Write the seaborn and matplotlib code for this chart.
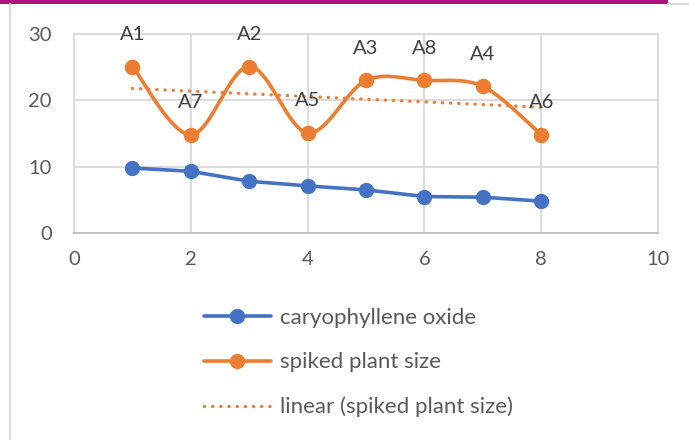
import numpy as np
import pandas as pd
import matplotlib
matplotlib.use("Agg")
import matplotlib.pyplot as plt
from matplotlib.lines import Line2D
from matplotlib.patches import Rectangle
import seaborn as sns

# --- data ---------------------------------------------------------------
x_vals = [1, 2, 3, 4, 5, 6, 7, 8]
caryophyllene_oxide = [9.8, 9.3, 7.8, 7.1, 6.5, 5.5, 5.4, 4.8]
spiked_plant_size = [25.1, 14.8, 25.1, 15.1, 23.0, 23.0, 22.1, 14.8]
point_labels = ["A1", "A7", "A2", "A5", "A3", "A8", "A4", "A6"]
x_ticks = [0, 2, 4, 6, 8, 10]
y_ticks = [0, 10, 20, 30]

BLUE = "#4472C4"
ORANGE = "#ED7D31"
GRID = "#D9D9D9"
TEXT = "#595959"

sns.set_theme(style="white")
plt.rcParams["font.family"] = ["Lato", "DejaVu Sans"]

W, H, DPI = 689, 440, 100
fig = plt.figure(figsize=(W / DPI, H / DPI), dpi=DPI)
ax = fig.add_axes([74 / W, 1 - 233 / H, (658 - 74) / W, (233 - 34) / H])


def smooth_curve(xs, ys, n=40):
    """Catmull-Rom style Bezier smoothing through every point."""
    pts = np.column_stack([xs, ys]).astype(float)
    ext = np.vstack([pts[0], pts, pts[-1]])
    out = []
    t = np.linspace(0, 1, n)[:, None]
    for i in range(len(pts) - 1):
        p0, p3 = ext[i + 1], ext[i + 2]
        c1 = p0 + (ext[i + 2] - ext[i]) / 6.0
        c2 = p3 - (ext[i + 3] - ext[i + 1]) / 6.0
        seg = ((1 - t) ** 3) * p0 + 3 * ((1 - t) ** 2) * t * c1 + 3 * (1 - t) * t ** 2 * c2 + t ** 3 * p3
        out.append(seg if i == 0 else seg[1:])
    arr = np.vstack(out)
    return arr[:, 0], arr[:, 1]


df = pd.DataFrame({"x": x_vals, "oxide": caryophyllene_oxide, "size": spiked_plant_size})

# caryophyllene oxide: straight segments with round markers
sns.lineplot(data=df, x="x", y="oxide", ax=ax, color=BLUE, lw=2.6,
             marker="o", markersize=11, markeredgewidth=0, zorder=4)

# spiked plant size: smoothed curve plus markers
sx, sy = smooth_curve(x_vals, spiked_plant_size)
sns.lineplot(x=sx, y=sy, ax=ax, color=ORANGE, lw=2.6, sort=False, zorder=4)
sns.scatterplot(data=df, x="x", y="size", ax=ax, color=ORANGE, s=125,
                linewidth=0, zorder=5)

# linear trend of spiked plant size
sns.regplot(data=df, x="x", y="size", ax=ax, scatter=False, ci=None, truncate=True,
            line_kws=dict(color=ORANGE, lw=2.4, linestyle=(0, (0.05, 2.4)),
                          dash_capstyle="round", zorder=3))

# point labels above the markers
for xv, yv, lab in zip(x_vals, spiked_plant_size, point_labels):
    ax.annotate(lab, (xv, yv), xytext=(0, 23), textcoords="offset points",
                ha="center", va="center", fontsize=14.5, color="#404040", zorder=6)

ax.set_xlim(0, 10)
ax.set_ylim(0, 30)
ax.set_xticks(x_ticks)
ax.set_yticks(y_ticks)
ax.set_xlabel("")
ax.set_ylabel("")
ax.grid(True, color=GRID, lw=1.3)
ax.set_axisbelow(True)
for side in ["top", "right", "left"]:
    ax.spines[side].set_visible(True)
    ax.spines[side].set_color(GRID)
    ax.spines[side].set_linewidth(1.3)
ax.spines["bottom"].set_color("#BFBFBF")
ax.spines["bottom"].set_linewidth(1.3)
ax.tick_params(axis="both", length=0, labelsize=14.5, labelcolor=TEXT)
ax.tick_params(axis="x", pad=13)
ax.tick_params(axis="y", pad=16)

# legend below the plot
handles = [
    Line2D([], [], color=BLUE, lw=2.6, marker="o", markersize=11, markeredgewidth=0),
    Line2D([], [], color=ORANGE, lw=2.6, marker="o", markersize=11, markeredgewidth=0),
    Line2D([], [], color=ORANGE, lw=2.4, linestyle=(0, (0.05, 2.4)), dash_capstyle="round"),
]
labels = ["caryophyllene oxide", "spiked plant size", "linear (spiked plant size)"]
fig.legend(handles, labels, loc="upper left", bbox_to_anchor=(204 / W, 1 - 308 / H),
           frameon=False, fontsize=16, handlelength=3.0, handletextpad=0.4,
           labelspacing=1.1, labelcolor=TEXT, borderaxespad=0, borderpad=0)

# outer frame decorations
fig.patches.append(Rectangle((0, 1 - 4 / H), 668 / W, 4 / H, transform=fig.transFigure,
                             color="#B3107F", lw=0))
fig.add_artist(Line2D([668 / W, 1], [1 - 4.5 / H, 1 - 4.5 / H], transform=fig.transFigure,
                      color=GRID, lw=1.5))
fig.add_artist(Line2D([9.5 / W, 9.5 / W], [0, 1 - 4 / H], transform=fig.transFigure,
                      color=GRID, lw=1.5))

fig.savefig("out.png", dpi=DPI)
